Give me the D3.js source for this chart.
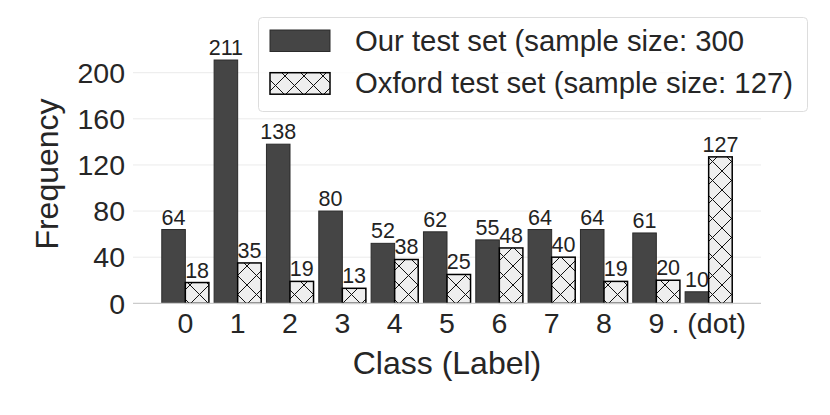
<!DOCTYPE html>
<html>
<head>
<meta charset="utf-8">
<script src="https://cdn.jsdelivr.net/npm/d3@7/dist/d3.min.js"></script>
<style>
  html, body { margin: 0; padding: 0; background: #fff; }
  svg { display: block; font-family: "Liberation Sans", Arial, sans-serif; }
</style>
</head>
<body>
<svg id="chart" width="830" height="415"></svg>
<script>
const categories = ["0", "1", "2", "3", "4", "5", "6", "7", "8", "9", ". (dot)"];
const ourValues = [64, 211, 138, 80, 52, 62, 55, 64, 64, 61, 10];
const oxfordValues = [18, 35, 19, 13, 38, 25, 48, 40, 19, 20, 127];
const yTicks = [0, 40, 80, 120, 160, 200];
const seriesNames = ["Our test set (sample size: 300", "Oxford test set (sample size: 127)"];

const svg = d3.select("#chart");
const left = 133, right = 761, bottom = 303.3, top200 = 72.7;

const x = d3.scaleBand().domain(categories).range([left, right]).paddingInner(0).paddingOuter(0.5);
const y = d3.scaleLinear().domain([0, 200]).range([bottom, top200]);
const bw = x.step() * 0.45;

// hatch pattern
const defs = svg.append("defs");
const pat = defs.append("pattern").attr("id", "hatch").attr("patternUnits", "userSpaceOnUse")
  .attr("width", 19).attr("height", 19);
pat.append("rect").attr("width", 19).attr("height", 19).attr("fill", "#eeeeee");
pat.append("path").attr("d", "M0,0L19,19M19,0L0,19M-1,1L1,-1M18,20L20,18")
  .attr("stroke", "#111").attr("stroke-width", 1).attr("fill", "none");

// gridlines
svg.append("g").selectAll("line").data(yTicks.filter(d => d > 0)).join("line")
  .attr("x1", left).attr("x2", right).attr("y1", d => y(d)).attr("y2", d => y(d))
  .attr("stroke", "#ebebeb").attr("stroke-width", 1);

// y axis labels
const yAxis = d3.axisLeft(y).tickValues(yTicks).tickSize(0).tickPadding(8);
const gy = svg.append("g").attr("transform", `translate(${left},0)`).call(yAxis);
gy.select(".domain").remove();
gy.selectAll("text").attr("font-size", 28.5).attr("fill", "#262626")
  .attr("font-family", "Liberation Sans, Arial, sans-serif").attr("x", -8).attr("dy", "0.34em");

// bars
svg.append("g").selectAll("rect").data(categories).join("rect")
  .attr("x", d => x(d) + x.step() / 2 - bw).attr("width", bw)
  .attr("y", (d, i) => y(ourValues[i])).attr("height", (d, i) => bottom - y(ourValues[i]))
  .attr("fill", "#454545").attr("stroke", "#2b2b2b").attr("stroke-width", 1);

svg.append("g").selectAll("rect").data(categories).join("rect")
  .attr("x", d => x(d) + x.step() / 2).attr("width", bw)
  .attr("y", (d, i) => y(oxfordValues[i])).attr("height", (d, i) => bottom - y(oxfordValues[i]))
  .attr("fill", "url(#hatch)").attr("stroke", "#000").attr("stroke-width", 1.5);

// bottom spine
svg.append("line").attr("x1", left).attr("x2", right).attr("y1", bottom).attr("y2", bottom)
  .attr("stroke", "#cccccc").attr("stroke-width", 1.3);

// value labels
svg.append("g").selectAll("text").data(categories).join("text")
  .attr("x", d => x(d) + x.step() / 2 - bw / 2)
  .attr("y", (d, i) => y(ourValues[i]) - 5)
  .attr("text-anchor", "middle").attr("font-size", 21.5).attr("fill", "#222")
  .text((d, i) => ourValues[i]);
svg.append("g").selectAll("text").data(categories).join("text")
  .attr("x", d => x(d) + x.step() / 2 + bw / 2)
  .attr("y", (d, i) => y(oxfordValues[i]) - 5)
  .attr("text-anchor", "middle").attr("font-size", 21.5).attr("fill", "#222")
  .text((d, i) => oxfordValues[i]);

// x axis
const xAxis = d3.axisBottom(x).tickSize(0).tickPadding(9);
const gx = svg.append("g").attr("transform", `translate(0,${bottom})`).call(xAxis);
gx.select(".domain").remove();
gx.selectAll("text").attr("font-size", 28.5).attr("fill", "#262626")
  .attr("font-family", "Liberation Sans, Arial, sans-serif");

// axis titles
svg.append("text").attr("x", (left + right) / 2 + 0).attr("y", 373.5)
  .attr("text-anchor", "middle").attr("font-size", 32).attr("fill", "#262626").text("Class (Label)");
svg.append("text").attr("transform", "translate(58,174) rotate(-90)")
  .attr("text-anchor", "middle").attr("font-size", 32).attr("fill", "#262626").text("Frequency");

// legend
const lg = svg.append("g");
lg.append("rect").attr("x", 258.5).attr("y", 17.5).attr("width", 549).attr("height", 94).attr("rx", 4)
  .attr("fill", "rgba(255,255,255,0.8)").attr("stroke", "#dddddd").attr("stroke-width", 1);
lg.append("rect").attr("x", 270).attr("y", 30).attr("width", 60).attr("height", 21.5)
  .attr("fill", "#454545").attr("stroke", "#2b2b2b").attr("stroke-width", 1);
lg.append("rect").attr("x", 270).attr("y", 72.7).attr("width", 60).attr("height", 21.5)
  .attr("fill", "url(#hatch)").attr("stroke", "#000").attr("stroke-width", 1.5);
lg.selectAll("text.l").data(seriesNames).join("text").attr("class", "l")
  .attr("x", 355).attr("y", (d, i) => i === 0 ? 51 : 92.5)
  .attr("font-size", 29.3).attr("fill", "#262626").text(d => d);
</script>
</body>
</html>
